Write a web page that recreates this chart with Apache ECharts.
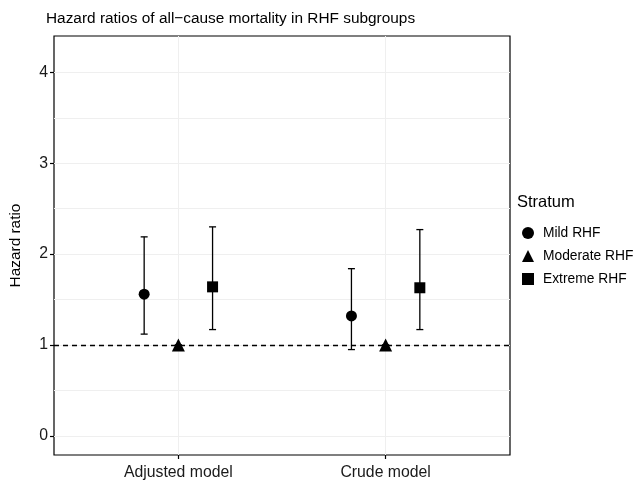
<!DOCTYPE html>
<html>
<head>
<meta charset="utf-8">
<script src="https://cdn.jsdelivr.net/npm/echarts@6/dist/echarts.min.js"></script>
<style>
  html, body { margin: 0; padding: 0; background: #fff; }
  #chart { width: 634px; height: 488px; }
</style>
</head>
<body>
<div id="chart"></div>
<script>
// data
var models = ['Adjusted model', 'Crude model'];
var strata = ['Mild RHF', 'Moderate RHF', 'Extreme RHF'];
var mildHR = [1.56, 1.32];
var mildLow = [1.12, 0.95];
var mildHigh = [2.19, 1.84];
var moderateHR = [1.0, 1.0];
var moderateLow = [1.0, 1.0];
var moderateHigh = [1.0, 1.0];
var extremeHR = [1.64, 1.63];
var extremeLow = [1.17, 1.17];
var extremeHigh = [2.30, 2.27];
var yTicks = [0, 1, 2, 3, 4];
var yGrid = [0, 0.5, 1, 1.5, 2, 2.5, 3, 3.5, 4];

var font = 'Liberation Sans, Arial, Helvetica, sans-serif';
var dodge = [-0.165, 0, 0.165];
var shapes = ['circle', 'triangle', 'rect'];
var sizes = [11, 13, 11];
var hrs = [mildHR, moderateHR, extremeHR];
var lows = [mildLow, moderateLow, extremeLow];
var highs = [mildHigh, moderateHigh, extremeHigh];

var chart = echarts.init(document.getElementById('chart'), null, {renderer: 'canvas'});

var series = [];

// background grid lines
series.push({
  type: 'scatter',
  data: [],
  z: 0,
  silent: true,
  markLine: {
    silent: true,
    z: 0,
    symbol: 'none',
    label: {show: false},
    animation: false,
    lineStyle: {color: '#EFEFEF', width: 1, type: 'solid'},
    data: yGrid.map(function (v) { return {yAxis: v}; })
      .concat(models.map(function (m, i) { return {xAxis: i + 1}; }))
  }
});

// reference line at HR = 1
series.push({
  type: 'scatter',
  data: [],
  z: 1,
  silent: true,
  markLine: {
    silent: true,
    z: 1,
    symbol: 'none',
    label: {show: false},
    animation: false,
    lineStyle: {color: '#000', width: 1.3, type: [5, 4]},
    data: [{yAxis: 1}]
  }
});

strata.forEach(function (s, k) {
  var barData = [], ptData = [];
  models.forEach(function (m, i) {
    var x = i + 1 + dodge[k];
    barData.push([x, lows[k][i], highs[k][i]]);
    ptData.push([x, hrs[k][i]]);
  });
  series.push({
    type: 'custom',
    name: s,
    z: 3,
    silent: true,
    encode: {x: 0, y: [1, 2]},
    data: barData,
    renderItem: function (params, api) {
      var lo = api.coord([api.value(0), api.value(1)]);
      var hi = api.coord([api.value(0), api.value(2)]);
      var w = 3.5;
      var st = {stroke: '#000', lineWidth: 1.3};
      return {
        type: 'group',
        children: [
          {type: 'line', shape: {x1: lo[0], y1: lo[1], x2: hi[0], y2: hi[1]}, style: st},
          {type: 'line', shape: {x1: lo[0] - w, y1: lo[1], x2: lo[0] + w, y2: lo[1]}, style: st},
          {type: 'line', shape: {x1: hi[0] - w, y1: hi[1], x2: hi[0] + w, y2: hi[1]}, style: st}
        ]
      };
    }
  });
  series.push({
    type: 'scatter',
    name: s,
    z: 4,
    symbol: shapes[k],
    symbolSize: sizes[k],
    itemStyle: {color: '#000', opacity: 1, borderWidth: 0},
    data: ptData
  });
});

chart.setOption({
  animation: false,
  backgroundColor: '#fff',
  title: [{
    text: 'Hazard ratios of all\u2212cause mortality in RHF subgroups',
    left: 41, top: 6,
    textStyle: {fontFamily: font, fontSize: 15.4, fontWeight: 'normal', color: '#000'}
  }, {
    text: 'Stratum',
    left: 517, top: 194, padding: 0,
    textStyle: {fontFamily: font, fontSize: 16.5, fontWeight: 'normal', color: '#000'}
  }],
  legend: {
    orient: 'vertical',
    left: 522, top: 226, padding: 0,
    itemWidth: 12, itemHeight: 12, itemGap: 9,
    selectedMode: false,
    textStyle: {fontFamily: font, fontSize: 13.8, lineHeight: 14, color: '#000', padding: [0, 0, 0, 4]},
    data: strata.map(function (s, k) { return {name: s, icon: shapes[k], itemStyle: {color: '#000'}}; })
  },
  grid: {
    left: 52, right: 124, top: 36, bottom: 33,
    show: true, borderColor: '#000', borderWidth: 1.2, backgroundColor: 'transparent',
    containLabel: false
  },
  xAxis: {
    type: 'value',
    min: 0.4, max: 2.6,
    axisLine: {show: false, onZero: false},
    splitLine: {show: false},
    axisTick: {show: true, length: 4, lineStyle: {color: '#000', width: 1.2}, customValues: [1, 2]},
    axisLabel: {
      customValues: [1, 2],
      margin: 10,
      fontFamily: font, fontSize: 15.8, color: '#1a1a1a',
      formatter: function (v) { return models[Math.round(v) - 1] || ''; }
    }
  },
  yAxis: {
    type: 'value',
    min: -0.21, max: 4.4,
    name: 'Hazard ratio',
    nameLocation: 'middle',
    nameRotate: 90,
    nameGap: 31,
    nameTextStyle: {fontFamily: font, fontSize: 15.4, color: '#000'},
    axisLine: {show: false, onZero: false},
    splitLine: {show: false},
    axisTick: {show: true, length: 4, lineStyle: {color: '#000', width: 1.2}, customValues: yTicks},
    axisLabel: {
      customValues: yTicks,
      margin: 6,
      fontFamily: font, fontSize: 15.8, color: '#1a1a1a'
    }
  },
  series: series
});
</script>
</body>
</html>
